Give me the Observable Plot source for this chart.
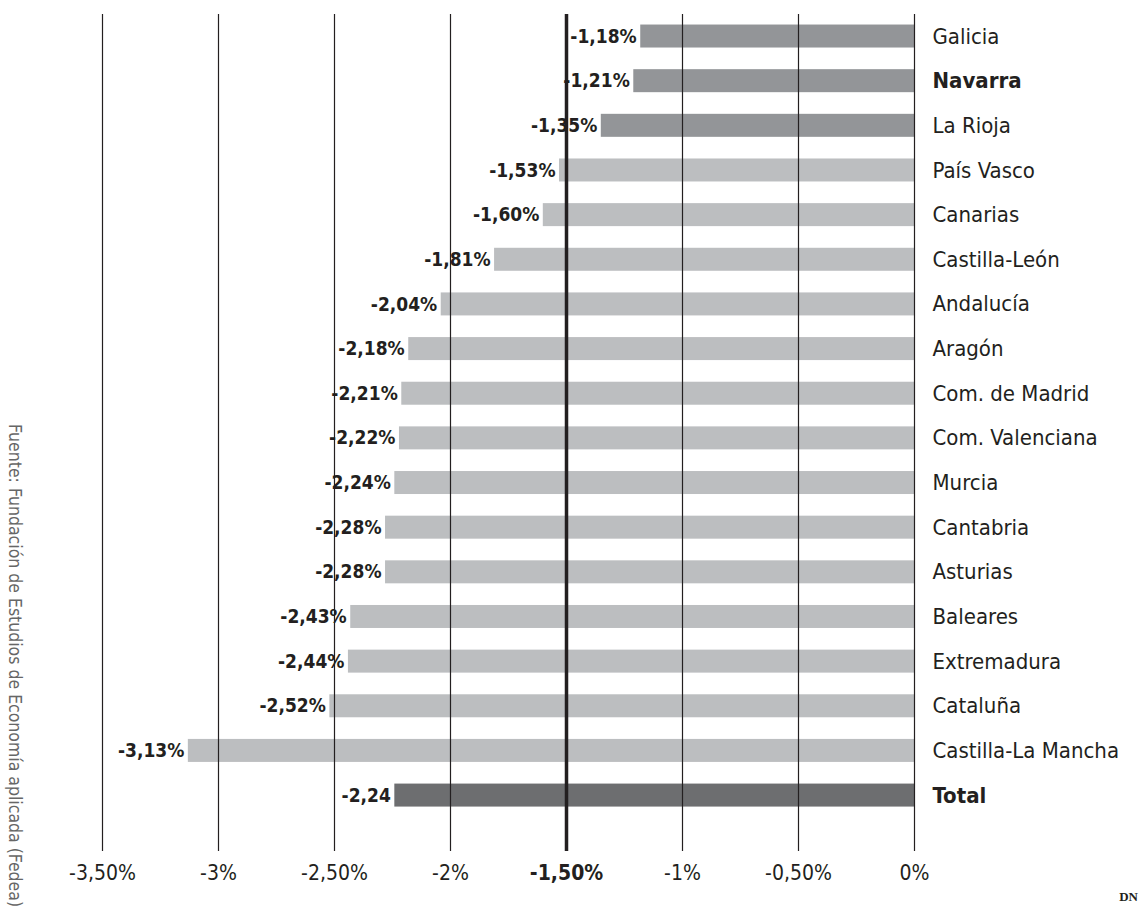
<!DOCTYPE html>
<html>
<head>
<meta charset="utf-8">
<script src="https://cdn.jsdelivr.net/npm/d3@7"></script>
<script src="https://cdn.jsdelivr.net/npm/@observablehq/plot@0.6"></script>
<style>
  html, body { margin: 0; padding: 0; background: #fff; }
  #wrap { position: relative; width: 1142px; height: 907px; overflow: hidden; }
  #chart { position: absolute; left: 0; top: 0; }
  #source { position: absolute; left: 5px; top: 424px; writing-mode: vertical-rl; white-space: nowrap;
    font-family: "DejaVu Sans Condensed", "DejaVu Sans", sans-serif; font-stretch: condensed; font-weight: 300; font-size: 17.5px; color: #666; }
  #dn { position: absolute; right: 4px; top: 889px; font-family: "Liberation Serif", serif; font-weight: bold; font-size: 13px; color: #231f20; }
</style>
</head>
<body>
<div id="wrap">
  <div id="chart"></div>
  <div id="source">Fuente: Fundación de Estudios de Economía aplicada (Fedea)</div>
  <div id="dn">DN</div>
</div>
<script>
const regions = ["Galicia","Navarra","La Rioja","País Vasco","Canarias","Castilla-León","Andalucía","Aragón","Com. de Madrid","Com. Valenciana","Murcia","Cantabria","Asturias","Baleares","Extremadura","Cataluña","Castilla-La Mancha","Total"];
const values = [-1.18,-1.21,-1.35,-1.53,-1.60,-1.81,-2.04,-2.18,-2.21,-2.22,-2.24,-2.28,-2.28,-2.43,-2.44,-2.52,-3.13,-2.24];
const valueLabels = ["-1,18%","-1,21%","-1,35%","-1,53%","-1,60%","-1,81%","-2,04%","-2,18%","-2,21%","-2,22%","-2,24%","-2,28%","-2,28%","-2,43%","-2,44%","-2,52%","-3,13%","-2,24"];
const groups = ["top","top","top","rest","rest","rest","rest","rest","rest","rest","rest","rest","rest","rest","rest","rest","rest","total"];
const boldRegions = ["Navarra","Total"];
const ticks = [-3.5,-3,-2.5,-2,-1.5,-1,-0.5,0];
const tickLabels = ["-3,50%","-3%","-2,50%","-2%","-1,50%","-1%","-0,50%","0%"];
const reference = -1.5;

const data = regions.map((r, i) => ({region: r, value: values[i], label: valueLabels[i], group: groups[i]}));
const tickData = ticks.map((t, i) => ({t, label: tickLabels[i]}));
const font = "'DejaVu Sans Condensed', 'DejaVu Sans', sans-serif";

const chart = Plot.plot({
  width: 1142,
  height: 907,
  marginTop: 14,
  marginBottom: 56,
  marginLeft: 102,
  marginRight: 228,
  style: {fontFamily: font, background: "transparent", fontStretch: "condensed"},
  x: {domain: [-3.5, 0], range: [102, 914], axis: null},
  y: {domain: regions, range: [13.7, 817.4], paddingInner: 0.485, paddingOuter: 0.2425, round: false, axis: null},
  color: {domain: ["top","rest","total"], range: ["#939598","#bcbec0","#6d6e70"]},
  marks: [
    Plot.barX(data, {x1: 0, x2: "value", y: "region", fill: "group"}),
    Plot.text(data, {x: "value", y: "region", text: "label", textAnchor: "end", dx: -4, fontSize: 19, fontWeight: "bold", fill: "#231f20"}),
    Plot.ruleX(ticks.filter(t => t !== reference), {stroke: "#231f20", strokeWidth: 1.2}),
    Plot.ruleX([reference], {stroke: "#231f20", strokeWidth: 3.5}),
    Plot.text(data.filter(d => !boldRegions.includes(d.region)), {x: 0, y: "region", text: "region", textAnchor: "start", dx: 18, fontSize: 22, fill: "#231f20"}),
    Plot.text(data.filter(d => boldRegions.includes(d.region)), {x: 0, y: "region", text: "region", textAnchor: "start", dx: 18, fontSize: 22, fontWeight: "bold", fill: "#231f20"}),
    Plot.text(tickData.filter(d => d.t !== reference), {x: "t", text: "label", frameAnchor: "bottom", dy: 28, fontSize: 21, fill: "#231f20"}),
    Plot.text(tickData.filter(d => d.t === reference), {x: "t", text: "label", frameAnchor: "bottom", dy: 28, fontSize: 21, fontWeight: "bold", fill: "#231f20"})
  ]
});
document.getElementById("chart").appendChild(chart);
</script>
</body>
</html>
